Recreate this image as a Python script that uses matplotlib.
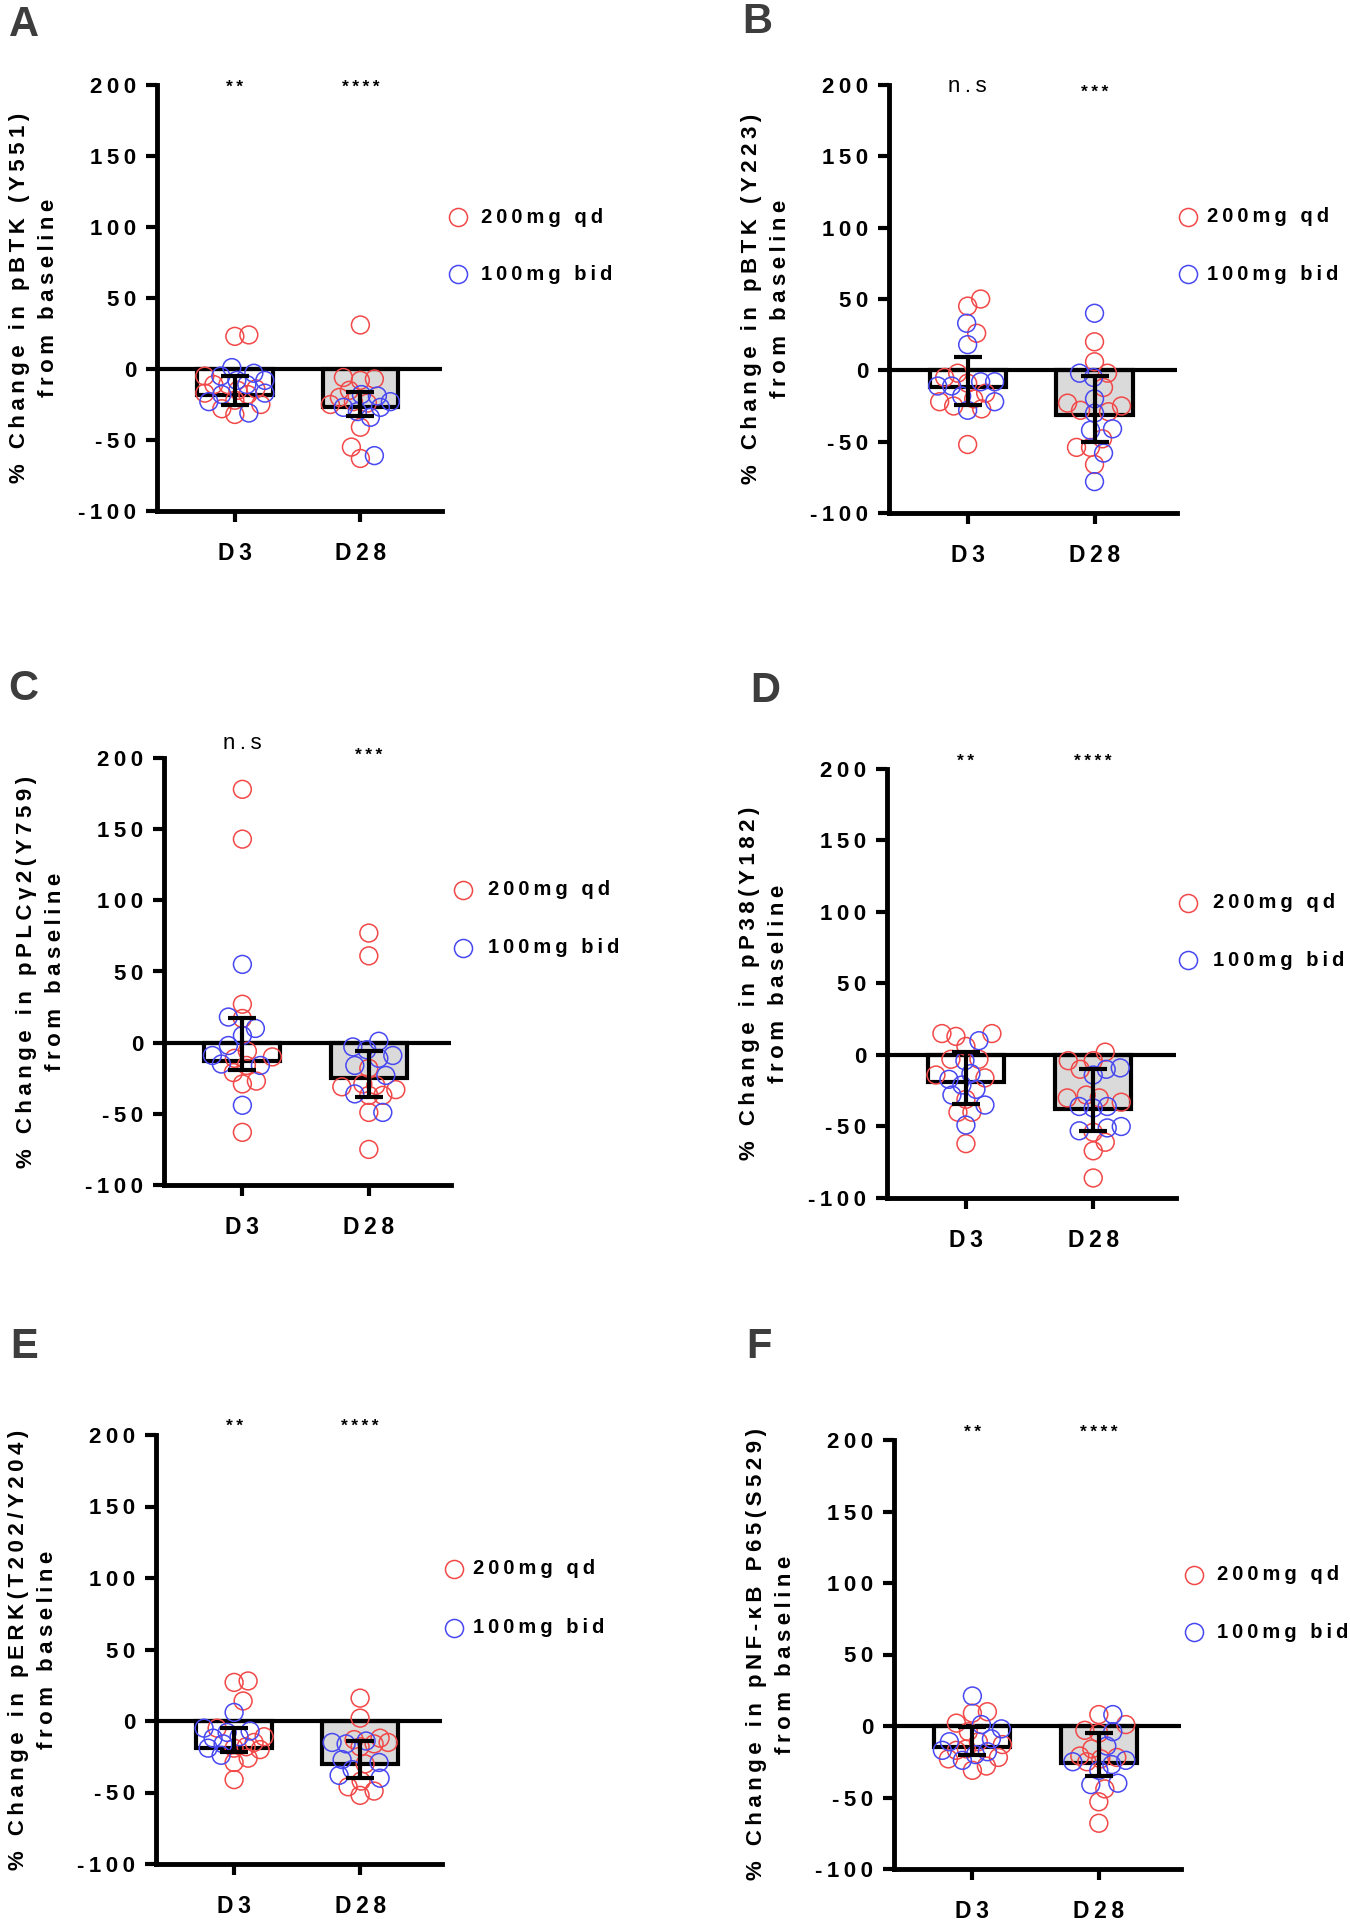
import numpy as np
import matplotlib
matplotlib.use('Agg')
import matplotlib.pyplot as plt

plt.rcParams['font.family'] = ['Liberation Sans', 'DejaVu Sans']

groups = ['D3', 'D28']
dose_labels = ['200mg qd', '100mg bid']
ytick_vals = [-100, -50, 0, 50, 100, 150, 200]
ytick_text = ['-100', '-50', '0', '50', '100', '150', '200']
line2 = 'from baseline'

# A - pBTK (Y551)
a_ylabel = '% Change in pBTK (Y551)'
a_sig = ['**', '****']
a_mean = [-18, -27]
a_err_lo = [-25, -33]
a_err_hi = [-5, -16]
a_d3_qd = [23, 24, -5, -14, -18, -11, -25, -32, -28, -22, -17, -15, -11]
a_d3_bid = [1, -5, -3, -8, -11, -8, -17, -18, -31, -23]
a_d28_qd = [31, -55, -63, -7, -6, -8, -15, -24, -41, -23, -25, -20]
a_d28_bid = [-61, -19, -34, -18, -23, -27, -27, -30]

# B - pBTK (Y223)
b_ylabel = '% Change in pBTK (Y223)'
b_sig = ['n.s', '***']
b_mean = [-12, -31]
b_err_lo = [-24, -50]
b_err_hi = [9, -4]
b_d3_qd = [45, 50, 26, -52, -5, -2, -9, -16, -22, -25, -27, -20]
b_d3_bid = [33, 18, -8, -11, -8, -11, -18, -28, -22]
b_d28_qd = [20, 6, -2, -12, -23, -28, -25, -48, -54, -54, -66, -29]
b_d28_bid = [40, -78, -2, -5, -20, -30, -41, -42, -58]

# C - pPLCg2 (Y759)
c_ylabel = '% Change in pPLCγ2(Y759)'
c_sig = ['n.s', '***']
c_mean = [-13, -25]
c_err_lo = [-19, -38]
c_err_hi = [17, -6]
c_d3_qd = [178, 143, 27, 17, -29, -27, -63, -6, -11, -16, -21, -10]
c_d3_bid = [55, 18, 10, 5, -44, -2, -9, -16, -15]
c_d28_qd = [77, 61, -75, -18, -31, -33, -29, -30, -37, -49, -37]
c_d28_bid = [1, -3, -9, -5, -11, -16, -23, -36, -49]

# D - pP38 (Y182)
d_ylabel = '% Change in pP38(Y182)'
d_sig = ['**', '****']
d_mean = [-19, -38]
d_err_lo = [-34, -53]
d_err_hi = [2, -10]
d_d3_qd = [13, 15, 15, 6, -3, -3, -14, -16, -31, -40, -40, -62]
d_d3_bid = [10, -4, -13, -24, -21, -17, -28, -35, -49]
d_d28_qd = [-4, 2, -4, -10, -28, -30, -30, -33, -54, -61, -67, -86]
d_d28_bid = [-9, -10, -14, -36, -37, -36, -51, -53, -50]

# E - pERK (T202/Y204)
e_ylabel = '% Change in pERK(T202/Y204)'
e_sig = ['**', '****']
e_mean = [-19, -30]
e_err_lo = [-22, -40]
e_err_hi = [-5, -14]
e_d3_qd = [28, 27, 14, -26, -41, -29, -5, -15, -19, -18, -11, -20]
e_d3_bid = [6, -5, -8, -7, -11, -24, -19, -16, -12]
e_d28_qd = [16, 2, -15, -18, -13, -12, -16, -46, -52, -49, -42, -30]
e_d28_bid = [-14, -15, -38, -40, -34, -27, -16, -29]

# F - pNF-kB P65 (S529)
f_ylabel = '% Change in pNF-κB P65(S529)'
f_sig = ['**', '****']
f_mean = [-15, -26]
f_err_lo = [-20, -35]
f_err_hi = [-1, -5]
f_d3_qd = [9, 10, 2, -4, -17, -22, -31, -28, -23, -13, -11, -16]
f_d3_bid = [21, -2, 1, -11, -24, -17, -18, -20, -9]
f_d28_qd = [8, -3, 1, -16, -21, -23, -22, -44, -53, -68, -5, -25]
f_d28_bid = [8, -4, -14, -31, -41, -40, -27, -25, -24]

RED = '#f24848'
BLUE = '#4848f2'
GRAY = '#dadada'
W, H = 1350, 1920
SP = '\u2009'


def spaced(s):
    return SP.join(s)


def swarm(ax, xc, vals, min_d=14.0, max_px=30):
    # spread the dots sideways (pixel space) like a column scatter in Prism
    vals = np.asarray(vals, float)
    ys = ax.transData.transform(np.column_stack([np.full(len(vals), xc), vals]))[:, 1]
    ppu = ax.transData.transform([(1, 0)])[0, 0] - ax.transData.transform([(0, 0)])[0, 0]
    steps = [0.0]
    for k in range(1, max_px + 1):
        steps += [k, -k]
    placed = []
    dx = np.zeros(len(vals))
    for i in np.argsort(ys):
        best, best_gap = 0.0, -1.0
        for s in steps:
            gap = min([np.hypot(s - px, ys[i] - py) for px, py in placed], default=1e9)
            if gap >= min_d:
                best = s
                break
            if gap > best_gap:
                best, best_gap = s, gap
        placed.append((best, ys[i]))
        dx[i] = best
    return xc + dx / ppu


def draw_panel(fig, letter, box, letter_xy, sig_y, legend_pos,
               ylabel, sig, mean, lo, hi, d3_qd, d3_bid, d28_qd, d28_bid):
    l, t, r, b = box
    ax = fig.add_axes([l / W, 1 - b / H, (r - l) / W, (b - t) / H])
    ax.set_xlim(-0.62, 1.65)
    ax.set_ylim(-100, 200)

    xs = np.arange(len(groups))
    mean = np.array(mean, float)
    ax.bar(xs, mean, width=0.6, color=['white', GRAY], edgecolor='black',
           linewidth=3, zorder=1)
    ax.axhline(0, color='black', lw=3, zorder=2)

    for xc, qd, bid in [(0, d3_qd, d3_bid), (1, d28_qd, d28_bid)]:
        vals = list(qd) + list(bid)
        xx = swarm(ax, xc, vals)
        n = len(qd)
        ax.scatter(xx[:n], vals[:n], s=165, facecolors='none', edgecolors=RED,
                   linewidths=1.1, zorder=3)
        ax.scatter(xx[n:], vals[n:], s=165, facecolors='none', edgecolors=BLUE,
                   linewidths=1.1, zorder=3)

    yerr = [mean - np.array(lo), np.array(hi) - mean]
    ax.errorbar(xs, mean, yerr=yerr, fmt='none', ecolor='black', elinewidth=3,
                capsize=10, capthick=3, zorder=4)

    for sp in ['top', 'right']:
        ax.spines[sp].set_visible(False)
    for sp in ['left', 'bottom']:
        ax.spines[sp].set_linewidth(3.5)

    ax.set_yticks(ytick_vals)
    ax.set_yticklabels([spaced(s) for s in ytick_text], fontsize=16, fontweight='bold')
    ax.set_xticks(xs)
    ax.set_xticklabels([spaced(g) for g in groups], fontsize=16.5, fontweight='bold')
    ax.tick_params(axis='y', length=8, width=3, pad=7)
    ax.tick_params(axis='x', length=8, width=3, pad=14)

    ax.set_ylabel(spaced(ylabel) + '\n' + spaced(line2), fontsize=16,
                  fontweight='bold', linespacing=1.5, va='center')
    ax.yaxis.set_label_coords(-123 / (r - l), 0.5)

    for xc, s, yy in zip(xs, sig, sig_y):
        if s.startswith('n'):
            ax.text(xc, yy, spaced(s), ha='center', va='center', fontsize=16)
        else:
            ax.text(xc, yy, spaced(s), ha='center', va='center', fontsize=12.5,
                    fontweight='bold')

    cx, tx, y1, y2 = legend_pos
    for col, lab, yy in [(RED, dose_labels[0], y1), (BLUE, dose_labels[1], y2)]:
        ax.plot([cx], [yy], marker='o', ms=13, mfc='none', mec=col, mew=1.1,
                transform=ax.transAxes, clip_on=False)
        ax.text(tx, yy, spaced(lab), transform=ax.transAxes, fontsize=14.5,
                fontweight='bold', va='center', ha='left')

    fig.text(letter_xy[0] / W, 1 - letter_xy[1] / H, letter, fontsize=30,
             fontweight='bold', color='#3d3d3d', ha='center', va='center')
    return ax


fig = plt.figure(figsize=(13.5, 19.2), dpi=100)

draw_panel(fig, 'A', (157, 85, 442, 511), (23.5, 24.5), [198, 198],
           (1.056, 1.137, 0.690, 0.556),
           a_ylabel, a_sig, a_mean, a_err_lo, a_err_hi, a_d3_qd, a_d3_bid, a_d28_qd, a_d28_bid)
draw_panel(fig, 'B', (889, 85, 1177, 513), (757, 22), [199, 195],
           (1.038, 1.104, 0.692, 0.558),
           b_ylabel, b_sig, b_mean, b_err_lo, b_err_hi, b_d3_qd, b_d3_bid, b_d28_qd, b_d28_bid)
draw_panel(fig, 'C', (164, 758, 451, 1185), (23, 689), [210, 201.6],
           (1.042, 1.129, 0.691, 0.556),
           c_ylabel, c_sig, c_mean, c_err_lo, c_err_hi, c_d3_qd, c_d3_bid, c_d28_qd, c_d28_bid)
draw_panel(fig, 'D', (887, 769, 1176, 1198), (765, 691), [205.5, 205.5],
           (1.042, 1.128, 0.688, 0.554),
           d_ylabel, d_sig, d_mean, d_err_lo, d_err_hi, d_d3_qd, d_d3_bid, d_d28_qd, d_d28_bid)
draw_panel(fig, 'E', (156, 1435, 442, 1864), (24.5, 1347), [205.8, 205.8],
           (1.042, 1.108, 0.688, 0.551),
           e_ylabel, e_sig, e_mean, e_err_lo, e_err_hi, e_d3_qd, e_d3_bid, e_d28_qd, e_d28_bid)
draw_panel(fig, 'F', (894, 1440, 1181, 1869), (759, 1347), [205, 205],
           (1.044, 1.125, 0.686, 0.552),
           f_ylabel, f_sig, f_mean, f_err_lo, f_err_hi, f_d3_qd, f_d3_bid, f_d28_qd, f_d28_bid)

fig.savefig('out.png', dpi=100)
